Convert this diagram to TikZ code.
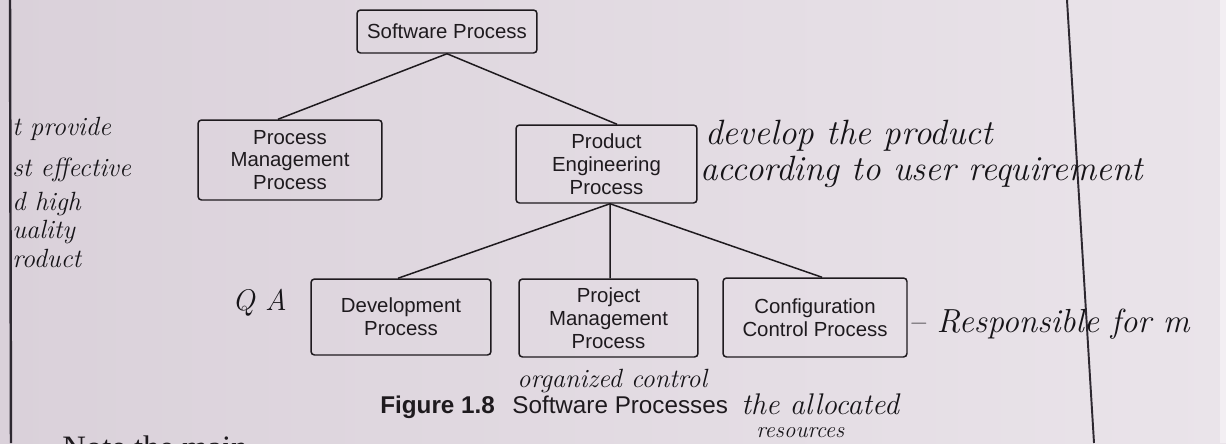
\documentclass[tikz,border=0pt]{standalone}
\usepackage{fontspec}
\newfontfamily\arialf{Liberation Sans}
\newfontfamily\timesf{Liberation Serif}
\definecolor{paperL}{RGB}{218,209,218}
\definecolor{paperR}{RGB}{234,228,234}
\definecolor{ink}{RGB}{30,26,30}
\definecolor{pen}{RGB}{22,20,24}
\definecolor{rule}{RGB}{45,40,48}
\tikzset{
  procbox/.style={draw=ink, line width=0.85pt, rounded corners=2pt, align=center,
    inner sep=0pt, font=\arialf\fontsize{11.6pt}{13pt}\selectfont, text=ink},
  link/.style={draw=ink, line width=0.85pt},
  hand/.style={anchor=base west, inner sep=0pt, text=pen},
}
\begin{document}
\begin{tikzpicture}[x=0.02cm, y=-0.02cm]
  % page
  \shade[left color=paperL, right color=paperR] (0,0) rectangle (1226,443);
  \useasboundingbox (0,0) rectangle (1226,443);
  \fill[paperR!60!white] (1220,0) rectangle (1226,443);
  % margin rules
  \draw[rule, line width=1.4pt] (10,0) -- (11,443);
  \draw[rule, line width=1.1pt] (1067,0) -- (1094,443);

  % process hierarchy
  \node[procbox, minimum width=3.6cm,  minimum height=0.86cm] (sp)  at (447,31.5) {Software Process};
  \node[procbox, minimum width=3.68cm, minimum height=1.6cm]  (pm)  at (290,160)  {Process\\Management\\Process};
  \node[procbox, minimum width=3.62cm, minimum height=1.56cm] (pe)  at (606.5,164) {Product\\Engineering\\Process};
  \node[procbox, minimum width=3.6cm,  minimum height=1.52cm] (dev) at (401,317)  {Development\\Process};
  \node[procbox, minimum width=3.58cm, minimum height=1.56cm] (pmp) at (608.5,318) {Project\\Management\\Process};
  \node[procbox, minimum width=3.68cm, minimum height=1.58cm] (ccp) at (815,317.5) {Configuration\\Control Process};

  \draw[link] (sp.south) -- ([xshift=-0.24cm]pm.north);
  \draw[link] (sp.south) -- ([xshift=0.21cm]pe.north);
  \draw[link] ([xshift=0.07cm]pe.south) -- ([xshift=-0.06cm]dev.north);
  \draw[link] ([xshift=0.07cm]pe.south) -- ([xshift=0.03cm]pmp.north);
  \draw[link] ([xshift=0.07cm]pe.south) -- ([xshift=0.14cm]ccp.north);

  % caption
  \node[anchor=base west, inner sep=0pt, text=ink, font=\arialf\bfseries\fontsize{13.8pt}{16pt}\selectfont] (capnum) at (380,413) {Figure 1.8};
  \node[anchor=base west, inner sep=0pt, text=ink, font=\arialf\fontsize{13.8pt}{16pt}\selectfont] (captxt) at (512,413) {Software Processes};

  % first line of the body text, running off the foot of the page
  \node[anchor=base west, inner sep=0pt, text=ink, font=\timesf\fontsize{18.6pt}{22pt}\selectfont] (body) at (62,458) {Note the main};

  % pencil notes
  \begin{scope}[font=\itshape\fontsize{15pt}{17pt}\selectfont]
    \node[hand] (n1) at (12,135) {t provide};
    \node[hand] (n2) at (12,176) {st effective};
    \node[hand] (n3) at (12,210) {d high};
    \node[hand] (n4) at (12,238) {uality};
    \node[hand] (n5) at (12,267) {roduct};
  \end{scope}
  \node[hand, font=\itshape\fontsize{20pt}{22pt}\selectfont] (n6) at (705,144) {develop the product};
  \node[hand, font=\itshape\fontsize{20pt}{22pt}\selectfont] (n7) at (700,180) {according to user requirement};
  \node[hand, font=\itshape\fontsize{17pt}{19pt}\selectfont] (n8) at (232,310) {Q A};
  \node[hand, font=\itshape\fontsize{19pt}{21pt}\selectfont] (n9) at (908,332) {-- Responsible for m};
  \node[hand, font=\itshape\fontsize{15pt}{17pt}\selectfont] (n10) at (517,387) {organized control};
  \node[hand, font=\itshape\fontsize{17pt}{19pt}\selectfont] (n11) at (741,414) {the allocated};
  \node[hand, font=\itshape\fontsize{13pt}{15pt}\selectfont] (n12) at (756,437) {resources};
\end{tikzpicture}
\end{document}
